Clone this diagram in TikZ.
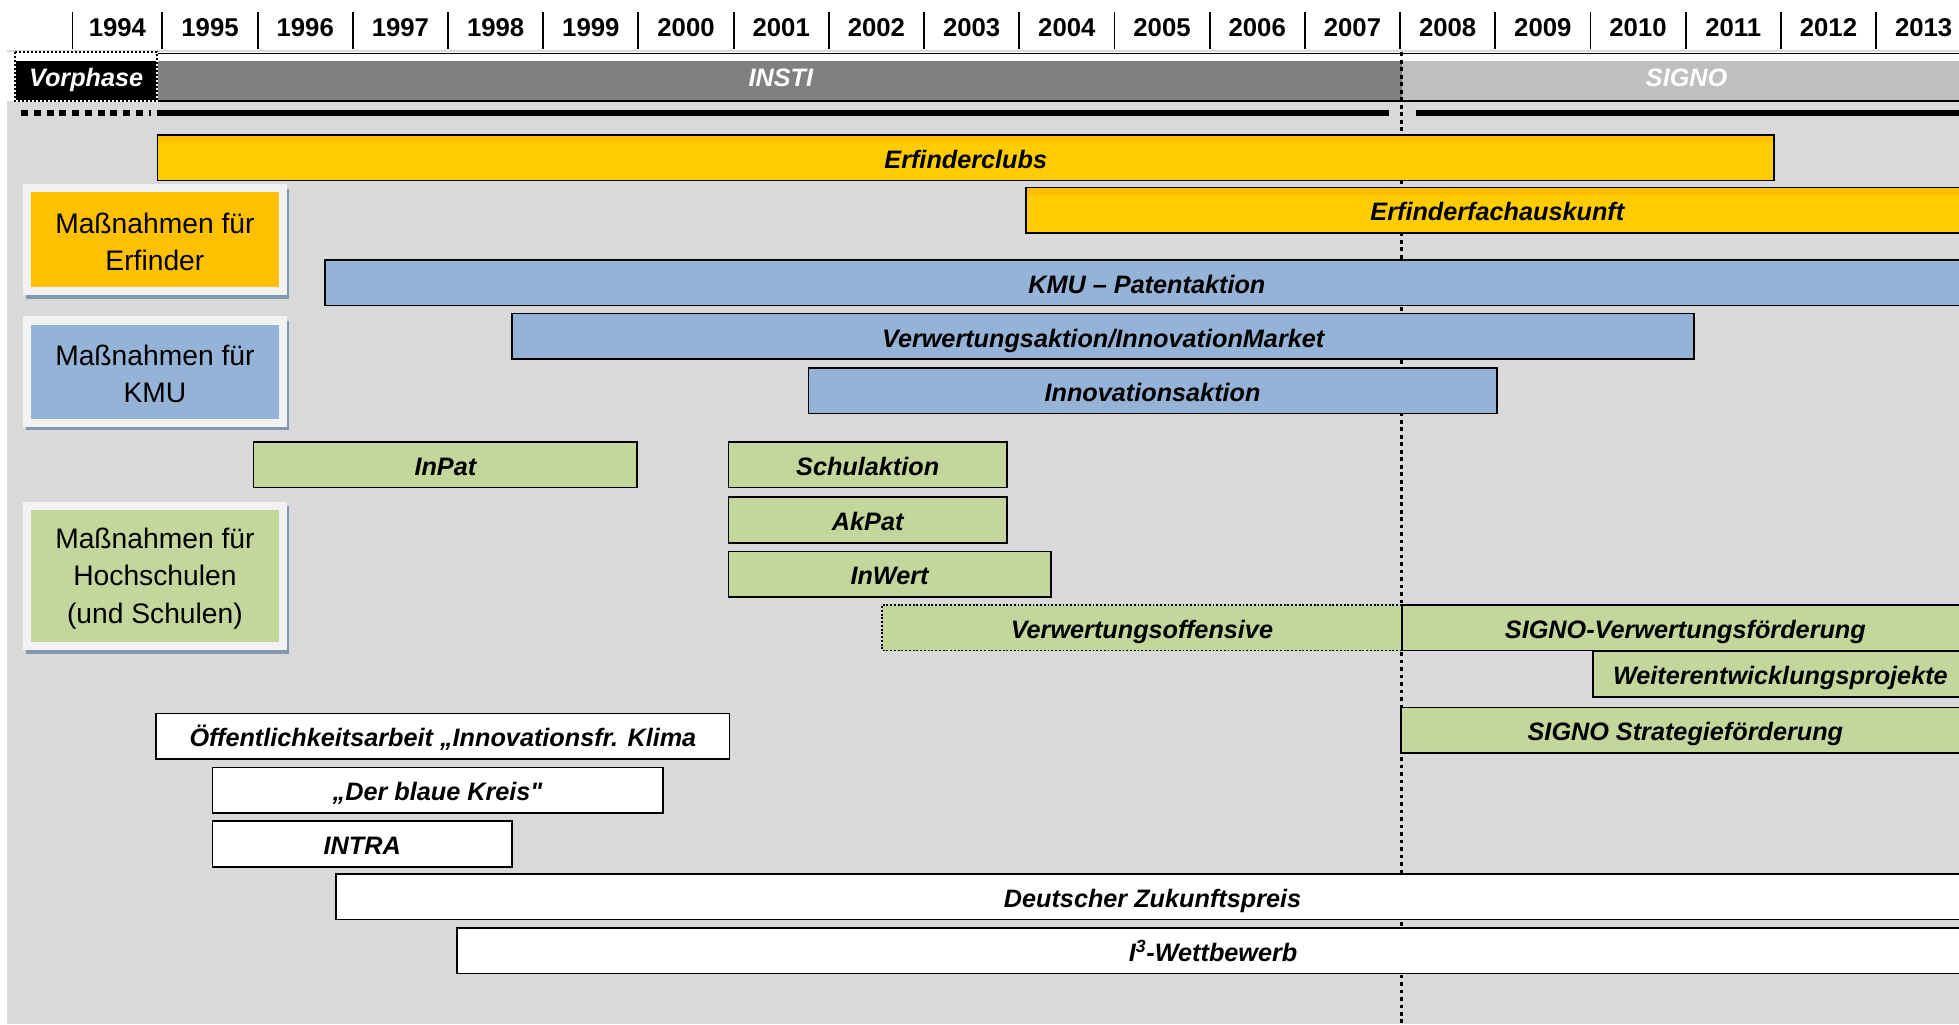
\documentclass[tikz,border=0pt]{standalone}
\usepackage{fontspec}
\setmainfont{Liberation Sans}[Ligatures=TeXOff]
\definecolor{bgc}{HTML}{D9D9D9}
\definecolor{yel}{HTML}{FFCC00}
\definecolor{yeltop}{HTML}{FFBF00}
\definecolor{yelleg}{HTML}{FFC000}
\definecolor{blu}{HTML}{95B3D7}
\definecolor{grn}{HTML}{C3D69B}
\definecolor{insti}{HTML}{808080}
\definecolor{signo}{HTML}{BFBFBF}
\definecolor{framec}{HTML}{F2F2F2}
\definecolor{shad}{HTML}{8497B0}
\tikzset{
  bar/.style={draw=black, line width=1.3pt, anchor=north west, inner sep=0pt, outer sep=0pt,
    minimum height=36.5pt, text height=17pt, text depth=0pt,
    font=\fontsize{20.2}{22}\selectfont\bfseries\itshape},
  yelbar/.style={bar, fill=yel, path picture={\fill[yeltop] (path picture bounding box.north west) rectangle ([yshift=-6pt]path picture bounding box.north east);}},
  blubar/.style={bar, fill=blu},
  grnbar/.style={bar, fill=grn},
  whtbar/.style={bar, fill=white},
  yearlbl/.style={font=\fontsize{20.6}{22}\selectfont\bfseries, inner sep=0pt, text height=14.5pt, text depth=0pt},
  phaselbl/.style={font=\fontsize{20.2}{22}\selectfont\bfseries\itshape, inner sep=0pt, text height=17pt, text depth=0pt},
  legtext/.style={font=\fontsize{22.6}{29.8}\selectfont, align=center, inner sep=0pt},
  tick/.style={line width=1.5pt},
}
\begin{document}
\begin{tikzpicture}[x=1pt,y=-1pt]
\useasboundingbox (0,0) rectangle (1568,820);
\clip (0,0) rectangle (1568,820);
\fill[white] (0,0) rectangle (1568,820);
\fill[bgc] (6,40) rectangle (1568,820);
% year header
\draw[tick] (58,9.5) -- (58,39.5);
\node[yearlbl] (y1994) at (94,22) {1994};
\foreach \i in {0,...,18}{
  \pgfmathsetmacro{\xx}{130+76.2*\i}
  \pgfmathtruncatemacro{\yr}{1995+\i}
  \draw[tick] (\xx,9.5) -- (\xx,39.5);
  \node[yearlbl] (y\yr) at (\xx+38.1,22) {\yr};
}
% phase bar
\fill[white] (6,42) rectangle (1568,81);
\fill[insti] (126,49) rectangle (1122,81);
\fill[signo] (1122,49) rectangle (1568,81);
\draw[line width=0.8pt] (126,42.5) -- (1568,42.5);
\draw[line width=1.2pt] (126,81) -- (1568,81);
\fill[black] (12,49) rectangle (126,81);
\draw[white, line width=1.6pt] (12,42) rectangle (126,81);
\draw[black, line width=1.6pt, dash pattern=on 1.6pt off 1.6pt] (12,42) rectangle (126,81);
\node[phaselbl, text=white] (vorphase) at (69,61) {Vorphase};
\node[phaselbl, text=white] (insti) at (625,61) {INSTI};
\node[phaselbl, text=white] (signo) at (1350,61) {SIGNO};
% thick timeline
\draw[line width=5pt, dash pattern=on 5.5pt off 4.7pt] (17,90.5) -- (121,90.5);
\draw[line width=5pt] (126,90.5) -- (1112,90.5);
\draw[line width=5pt] (1133,90.5) -- (1568,90.5);
% vertical divider
\coordinate (dtop) at (1122,42);
\coordinate (dbot) at (1122,822);
\draw[line width=2.5pt, dash pattern=on 3pt off 3pt] (dtop) -- (dbot);
% legend boxes
\foreach \yt/\yb/\col in {147.5/236/yelleg, 253.3/341.5/blu, 401.7/520.5/grn}{
  \fill[shad] (20.5,\yt+3.5) rectangle (231.5,\yb+3);
  \fill[framec] (18.5,\yt) rectangle (229.5,\yb);
  \fill[\col] (25,\yt+6.5) rectangle (223,\yb-6.5);
}
\node[legtext] (legE) at (124,193.5) {Maßnahmen für\\Erfinder};
\node[legtext] (legK) at (124,299.5) {Maßnahmen für\\KMU};
\node[legtext] (legH) at (124,463) {Maßnahmen für\\Hochschulen\\(und Schulen)};
% bars
\node[yelbar, minimum width=1294pt] (b1) at (126,108) {Erfinderclubs};
\node[yelbar, minimum width=755pt] (b2) at (821,150) {Erfinderfachauskunft};
\node[blubar, minimum width=1316pt] (b3) at (260,208) {KMU – Patentaktion};
\node[blubar, minimum width=946pt] (b4) at (410,251) {Verwertungsaktion/InnovationMarket};
\node[blubar, minimum width=551pt] (b5) at (647,294.5) {Innovationsaktion};
\node[grnbar, minimum width=307pt] (b6) at (203,353.8) {InPat};
\node[grnbar, minimum width=223pt] (b7) at (583,353.8) {Schulaktion};
\node[grnbar, minimum width=223pt] (b8) at (583,398) {AkPat};
\node[grnbar, minimum width=258pt] (b9) at (583,441.3) {InWert};
\node[grnbar, draw=none, minimum width=416pt] (b10) at (706,484.2) {Verwertungsoffensive};
\draw[line width=1.5pt, dash pattern=on 1.5pt off 1.5pt] (b10.north east) -- (b10.north west) -- (b10.south west) -- (b10.south east);
\node[grnbar, minimum width=454pt] (b11) at (1122,484.2) {SIGNO-Verwertungsförderung};
\node[grnbar, minimum width=300pt] (b12) at (1275,521.5) {Weiterentwicklungsprojekte};
\node[grnbar, minimum width=455pt] (b13) at (1121.5,566.2) {SIGNO Strategieförderung};
\node[whtbar, minimum width=459pt] (b14) at (125,571) {Öffentlichkeitsarbeit „Innovationsfr. Klima};
\node[whtbar, minimum width=360.5pt] (b15) at (170,614.2) {„Der blaue Kreis"};
\node[whtbar, minimum width=239.8pt] (b16) at (170,657.3) {INTRA};
\node[whtbar, minimum width=1307pt] (b17) at (269,699.5) {Deutscher Zukunftspreis};
\node[whtbar, minimum width=1210pt] (b18) at (366,742.8) {I\textsuperscript{3}-Wettbewerb};
\end{tikzpicture}
\end{document}
